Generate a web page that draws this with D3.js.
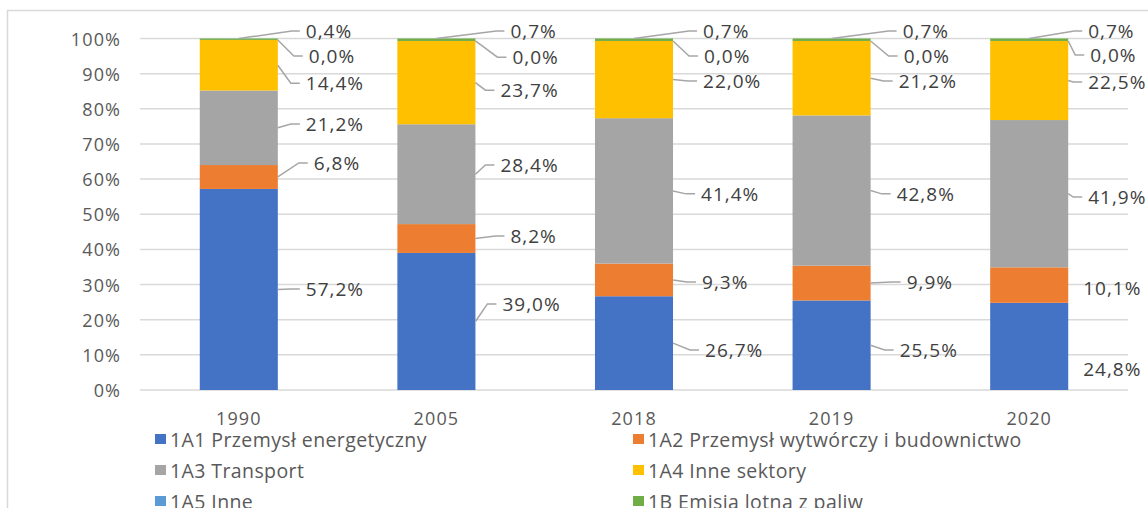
<!DOCTYPE html>
<html>
<head>
<meta charset="utf-8">
<script src="https://cdn.jsdelivr.net/npm/d3@7"></script>
<style>
  html, body { margin: 0; padding: 0; background: #fff; }
  svg { display: block; font-family: "Open Sans", "Noto Sans", sans-serif; }
</style>
</head>
<body>
<svg id="chart" width="1148" height="508"></svg>
<script>
// ---------- data ----------
const categories = ["1990", "2005", "2018", "2019", "2020"];
const seriesNames = [
  "1A1 Przemysł energetyczny",
  "1A2 Przemysł wytwórczy i budownictwo",
  "1A3 Transport",
  "1A4 Inne sektory",
  "1A5 Inne",
  "1B Emisja lotna z paliw"
];
const s1A1 = [57.2, 39.0, 26.7, 25.5, 24.8];
const s1A2 = [6.8, 8.2, 9.3, 9.9, 10.1];
const s1A3 = [21.2, 28.4, 41.4, 42.8, 41.9];
const s1A4 = [14.4, 23.7, 22.0, 21.2, 22.5];
const s1A5 = [0.0, 0.0, 0.0, 0.0, 0.0];
const s1B  = [0.4, 0.7, 0.7, 0.7, 0.7];
const yTicks = [0, 10, 20, 30, 40, 50, 60, 70, 80, 90, 100];
const seriesColors = ["#4472C4", "#ED7D31", "#A5A5A5", "#FFC000", "#5B9BD5", "#70AD47"];

// label placement (value units on the y axis, per series, per category)
const labelAtValue = [
  [28.7, 24.5, 11.4, 11.4, 6.0],
  [64.6, 43.8, 30.7, 30.7, 29.0],
  [75.7, 64.0, 55.8, 55.8, 54.9],
  [87.3, 85.3, 87.9, 87.9, 87.6],
  [95.0, 94.7, 95.0, 95.0, 95.3],
  [102.1, 102.1, 102.1, 102.1, 102.1]
];
// horizontal gap (px) between bar right edge and label text
const labelGap = [
  [28, 27, 32, 29, 15],
  [36, 35, 29, 36, 15],
  [28, 25, 28, 26, 20],
  [28, 25, 30, 28, 20],
  [31, 37, 31, 33, 22],
  [28, 35, 30, 32, 20]
];

const seriesValues = [s1A1, s1A2, s1A3, s1A4, s1A5, s1B];

// ---------- layout ----------
const svg = d3.select("#chart");
const plot = { left: 140, right: 1128, top: 38.5, bottom: 390 };

svg.append("rect")
  .attr("x", 7.5).attr("y", 10.5)
  .attr("width", 1160).attr("height", 520)
  .attr("fill", "#fff").attr("stroke", "#d9d9d9").attr("stroke-width", 1.5);

const x = d3.scaleBand().domain(categories).range([plot.left, plot.right]).padding(0);
const barW = x.bandwidth() * 0.395;
const y = d3.scaleLinear().domain([0, 100]).range([plot.bottom, plot.top]);

// gridlines
svg.append("g").selectAll("line").data(yTicks).join("line")
  .attr("x1", plot.left).attr("x2", plot.right)
  .attr("y1", d => y(d)).attr("y2", d => y(d))
  .attr("stroke", "#d9d9d9").attr("stroke-width", 1.5);

// y axis labels
svg.append("g").selectAll("text").data(yTicks).join("text")
  .attr("x", 121).attr("y", d => y(d))
  .attr("text-anchor", "end").attr("dominant-baseline", "central")
  .attr("font-size", 18).attr("letter-spacing", 1.1).attr("fill", "#595959")
  .text(d => d + "%");

// x axis labels
svg.append("g").selectAll("text").data(categories).join("text")
  .attr("x", d => x(d) + x.bandwidth() / 2).attr("y", 418)
  .attr("text-anchor", "middle").attr("dominant-baseline", "central")
  .attr("font-size", 18).attr("letter-spacing", 1.1).attr("fill", "#595959")
  .text(d => d);

// stacked data
const table = categories.map((c, i) => {
  const row = { cat: c };
  seriesNames.forEach((s, k) => row[s] = seriesValues[k][i]);
  return row;
});
const stack = d3.stack().keys(seriesNames).offset(d3.stackOffsetExpand);
const stacked = stack(table);

const gBars = svg.append("g");
stacked.forEach((layer, k) => {
  gBars.selectAll(null).data(layer).join("rect")
    .attr("x", d => x(d.data.cat) + (x.bandwidth() - barW) / 2)
    .attr("width", barW)
    .attr("y", d => y(d[1] * 100))
    .attr("height", d => Math.max(0, y(d[0] * 100) - y(d[1] * 100)))
    .attr("fill", seriesColors[k]);
});

// data labels with leader lines
const fmt = v => v.toFixed(1).replace(".", ",") + "%";
const gLab = svg.append("g");
stacked.forEach((layer, k) => {
  layer.forEach((d, i) => {
    const cx = x(d.data.cat) + x.bandwidth() / 2;
    const right = cx + barW / 2;
    const lx = right + labelGap[k][i];
    const ly = y(labelAtValue[k][i]);
    const gap = labelGap[k][i];
    if (gap > 17) {
      let sx, sy;
      if (k === 5) { sx = cx; sy = y(d[1] * 100); }
      else if (k === 4) { sx = right; sy = y(d[1] * 100); }
      else { sx = right; sy = y((d[0] + d[1]) / 2 * 100); }
      const ex = lx - 6;
      const elbow = k === 5 ? ex - 8 : ex - 9;
      gLab.append("polyline")
        .attr("points", [[sx, sy], [elbow, ly], [ex, ly]].map(p => p.join(",")).join(" "))
        .attr("fill", "none").attr("stroke", "#a6a6a6").attr("stroke-width", 1.5);
    }
    gLab.append("text")
      .attr("x", lx).attr("y", ly)
      .attr("dominant-baseline", "central")
      .attr("font-size", 19).attr("letter-spacing", 1).attr("fill", "#404040")
      .text(fmt(seriesValues[k][i]));
  });
});

// legend
const legendCols = [155, 633];
const legendRows = [439, 470, 501];
const gLeg = svg.append("g");
seriesNames.forEach((s, k) => {
  const cx = legendCols[k % 2];
  const cy = legendRows[Math.floor(k / 2)];
  gLeg.append("rect").attr("x", cx).attr("y", cy - 5).attr("width", 11).attr("height", 10)
    .attr("fill", seriesColors[k]);
  gLeg.append("text").attr("x", cx + 15).attr("y", cy)
    .attr("dominant-baseline", "central")
    .attr("font-size", 19.5).attr("letter-spacing", 0.4).attr("fill", "#595959")
    .text(s);
});
</script>
</body>
</html>
